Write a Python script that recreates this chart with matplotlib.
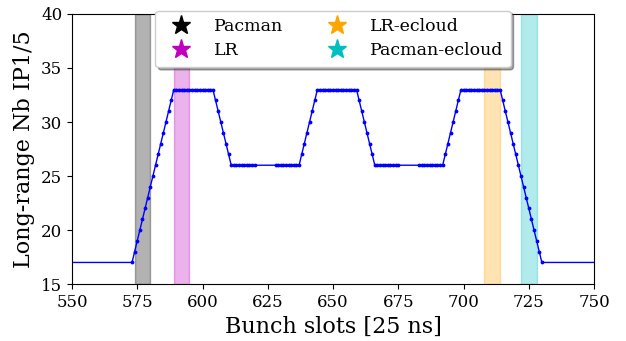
import numpy as np
import matplotlib
matplotlib.use('Agg')
import matplotlib.pyplot as plt

plt.rcParams['font.family'] = 'DejaVu Serif'

# first slot of each 48-bunch train
train_start = [573, 628, 683]
train_len = 48

# long-range encounters per bunch, train by train
nb_train1 = [17, 18, 19, 20, 21, 22, 23, 24, 25, 26, 27, 28, 29, 30, 31, 32, 33,
             33, 33, 33, 33, 33, 33, 33, 33, 33, 33, 33, 33, 33, 33, 33,
             32, 31, 30, 29, 28, 27, 26,
             26, 26, 26, 26, 26, 26, 26, 26, 26]
nb_train2 = [26, 26, 26, 26, 26, 26, 26, 26, 26, 26,
             27, 28, 29, 30, 31, 32, 33,
             33, 33, 33, 33, 33, 33, 33, 33, 33, 33, 33, 33, 33, 33, 33,
             32, 31, 30, 29, 28, 27, 26,
             26, 26, 26, 26, 26, 26, 26, 26, 26]
nb_train3 = [26, 26, 26, 26, 26, 26, 26, 26, 26, 26,
             27, 28, 29, 30, 31, 32, 33,
             33, 33, 33, 33, 33, 33, 33, 33, 33, 33, 33, 33, 33, 33, 33,
             32, 31, 30, 29, 28, 27, 26, 25, 24, 23, 22, 21, 20, 19, 18, 17]

# neighbouring trains just outside the window
outer_slots = [520, 785]
outer_nb = [17, 17]

# highlighted bunches: (first slot, last slot, colour, label)
band_lo = [574, 589, 708, 722]
band_hi = [580, 595, 714, 728]
band_col = ['k', 'm', 'orange', 'c']
band_lab = ['Pacman', 'LR', 'LR-ecloud', 'Pacman-ecloud']

slots = [outer_slots[0]]
nb = [outer_nb[0]]
for s0, vals in zip(train_start, [nb_train1, nb_train2, nb_train3]):
    slots += list(np.arange(s0, s0 + train_len))
    nb += vals
slots.append(outer_slots[1])
nb.append(outer_nb[1])

fig = plt.figure(figsize=(6.26, 3.41), dpi=100)
ax = fig.add_axes([0.115, 0.167, 0.834, 0.792])

ax.plot(slots, nb, '.-', color='b', lw=1, ms=3.5)

for lo, hi, c, lab in zip(band_lo, band_hi, band_col, band_lab):
    ax.axvspan(lo, hi, color=c, alpha=0.3)
    ax.plot([], [], '*', color=c, ms=14, label=lab)

ax.set_xlim(550, 750)
ax.set_ylim(15, 40)
ax.set_xticks(np.arange(550, 751, 25))
ax.set_yticks(np.arange(15, 41, 5))
ax.tick_params(labelsize=12)
ax.set_xlabel('Bunch slots [25 ns]', fontsize=16)
ax.set_ylabel('Long-range Nb IP1/5', fontsize=16)

ax.legend(loc='upper center', bbox_to_anchor=(0.5, 1.045), ncol=2,
          shadow=True, fontsize=12.5, handletextpad=0.9, columnspacing=2.1,
          borderpad=0.45, labelspacing=0.4)

fig.savefig('out.png', dpi=100)
